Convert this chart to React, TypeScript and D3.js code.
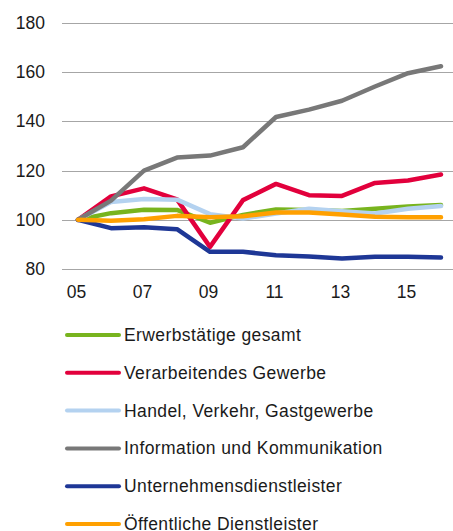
import React, { useEffect, useRef } from 'react';
import * as d3 from 'd3';

const years = ['05', '06', '07', '08', '09', '10', '11', '12', '13', '14', '15', '16'];
const tickYears = ['05', '07', '09', '11', '13', '15'];
const yTicks = [80, 100, 120, 140, 160, 180];

const seriesNames = [
  'Erwerbstätige gesamt',
  'Verarbeitendes Gewerbe',
  'Handel, Verkehr, Gastgewerbe',
  'Information und Kommunikation',
  'Unternehmensdienstleister',
  'Öffentliche Dienstleister',
];
const seriesColors = ['#78b41e', '#e2003c', '#b4d2f0', '#787878', '#1e3796', '#ffa000'];

const erwerbstaetige = [100, 102.7, 104.1, 104, 98.8, 102, 104.2, 104, 103.6, 104.5, 105.4, 106];
const verarbeitend = [100, 109.5, 112.8, 108.3, 89, 108, 114.6, 110, 109.7, 115, 116, 118.4];
const handel = [100, 107.2, 108.5, 108.2, 102.3, 100.5, 102.6, 104.5, 103.5, 102.6, 104.5, 105.6];
const information = [100, 107.8, 120, 125.3, 126.1, 129.5, 141.8, 144.8, 148.4, 154.2, 159.6, 162.4];
const unternehmen = [100, 96.6, 97, 96.2, 87, 87, 85.6, 85.1, 84.3, 85, 85, 84.7];
const oeffentlich = [100, 99.6, 100.2, 101.6, 101, 101.4, 103, 103, 102.2, 101.2, 101, 101];

const allSeries = [erwerbstaetige, verarbeitend, handel, information, unternehmen, oeffentlich];

const W = 453;
const H = 531;
const font = '"Liberation Sans", Arial, sans-serif';
const fontSize = 17.5;

const LineChart = () => {
  const svgRef = useRef<SVGSVGElement>(null);

  useEffect(() => {
    const svg = d3.select(svgRef.current);
    svg.selectAll('*').remove();

    const x = d3.scalePoint().domain(years).range([78, 441]);
    const y = d3.scaleLinear().domain([80, 180]).range([269, 23]);

    // grid
    svg
      .append('g')
      .selectAll('line')
      .data(yTicks)
      .enter()
      .append('line')
      .attr('x1', 62)
      .attr('x2', W)
      .attr('y1', (d) => Math.round(y(d)) + 0.5)
      .attr('y2', (d) => Math.round(y(d)) + 0.5)
      .attr('stroke', '#a6a6a6')
      .attr('stroke-width', 1);

    svg
      .append('g')
      .selectAll('text')
      .data(yTicks)
      .enter()
      .append('text')
      .attr('x', 45)
      .attr('y', (d) => y(d) + 6)
      .attr('text-anchor', 'end')
      .attr('font-family', font)
      .attr('font-size', fontSize)
      .attr('fill', '#1a1a1a')
      .text((d) => d);

    svg
      .append('g')
      .selectAll('text')
      .data(tickYears)
      .enter()
      .append('text')
      .attr('x', (d) => x(d)! - 1.5)
      .attr('y', 298)
      .attr('text-anchor', 'middle')
      .attr('font-family', font)
      .attr('font-size', fontSize)
      .attr('fill', '#1a1a1a')
      .text((d) => d);

    const line = d3
      .line<number>()
      .x((d, i) => x(years[i])!)
      .y((d) => y(d));

    svg
      .append('g')
      .selectAll('path')
      .data(allSeries)
      .enter()
      .append('path')
      .attr('d', (d) => line(d))
      .attr('fill', 'none')
      .attr('stroke', (d, i) => seriesColors[i])
      .attr('stroke-width', 4.5)
      .attr('stroke-linejoin', 'round')
      .attr('stroke-linecap', 'round');

    // legend
    const legend = svg
      .append('g')
      .selectAll('g')
      .data(seriesNames)
      .enter()
      .append('g')
      .attr('transform', (d, i) => `translate(0, ${335 + i * 37.8})`);

    legend
      .append('line')
      .attr('x1', 67)
      .attr('x2', 119)
      .attr('stroke', (d, i) => seriesColors[i])
      .attr('stroke-width', 4)
      .attr('stroke-linecap', 'round');

    legend
      .append('text')
      .attr('x', 124)
      .attr('y', 6)
      .attr('font-family', font)
      .attr('font-size', fontSize)
      .attr('letter-spacing', 0.4)
      .attr('fill', '#1a1a1a')
      .text((d) => d);
  }, []);

  return (
    <svg
      ref={svgRef}
      width={W}
      height={H}
      style={{ position: 'absolute', left: 0, top: 0, background: '#fff' }}
    />
  );
};

export default function App() {
  return <LineChart />;
}
